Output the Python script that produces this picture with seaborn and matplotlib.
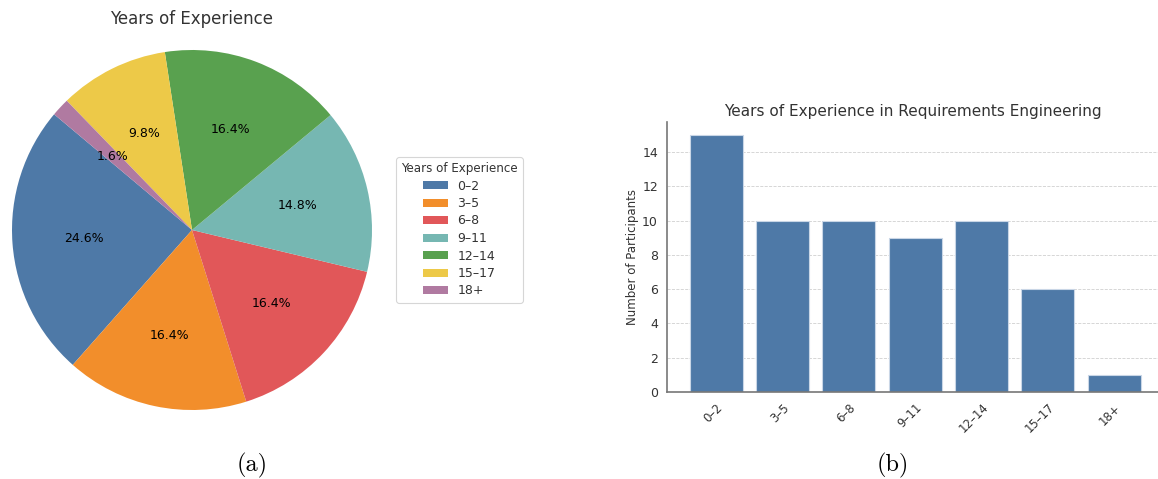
import matplotlib
matplotlib.use("Agg")
import matplotlib.pyplot as plt
import seaborn as sns
import pandas as pd

categories = ["0–2", "3–5", "6–8", "9–11", "12–14", "15–17", "18+"]
participants = [15, 10, 10, 9, 10, 6, 1]
colors = ["#4e79a7", "#f28e2b", "#e15759", "#76b7b2", "#59a14f", "#edc948", "#b07aa1"]

sns.set_style("white")
plt.rcParams["font.family"] = ["DejaVu Sans"]
plt.rcParams["text.color"] = "#333333"
plt.rcParams["axes.labelcolor"] = "#333333"
plt.rcParams["xtick.color"] = "#333333"
plt.rcParams["ytick.color"] = "#333333"

W, H = 1158, 479
fig = plt.figure(figsize=(W / 100, H / 100), dpi=100)

def pos(x0, y0, x1, y1):
    return [x0 / W, 1 - y1 / H, (x1 - x0) / W, (y1 - y0) / H]

# (a) pie
ax1 = fig.add_axes(pos(12, 50, 372, 410))
wedges, texts, autotexts = ax1.pie(
    participants, colors=colors, startangle=140, counterclock=True,
    autopct="%1.1f%%", pctdistance=0.6,
    wedgeprops={"linewidth": 0, "edgecolor": "none"},
    textprops={"fontsize": 9, "color": "black"},
)
ax1.set_xlim(-1, 1)
ax1.set_ylim(-1, 1)
ax1.set_aspect("equal")
ax1.set_title("Years of Experience", fontsize=12, pad=19, color="#333333")
leg = fig.legend(wedges, categories, title="Years of Experience",
                 loc="upper left", bbox_to_anchor=(396 / W, 1 - 157 / H),
                 fontsize=9, title_fontsize=8.6, frameon=True,
                 borderpad=0.4, labelspacing=0.36, handlelength=2.0,
                 handleheight=0.6, handletextpad=0.7, borderaxespad=0)
leg.get_frame().set_edgecolor("#cccccc")
leg.get_frame().set_linewidth(0.8)

# (b) bar
ax2 = fig.add_axes(pos(667, 122, 1158, 392))
df = pd.DataFrame({"Years": categories, "Participants": participants})
sns.barplot(data=df, x="Years", y="Participants", color="#4e79a7",
            saturation=1, width=0.8, ax=ax2, edgecolor="#c9d6e6", linewidth=0.8)
ax2.set_xlim(-0.74, 6.66)
ax2.set_ylim(0, 15.75)
ax2.set_yticks([0, 2, 4, 6, 8, 10, 12, 14])
ax2.yaxis.grid(True, linestyle="--", color="#d0d0d0", linewidth=0.6)
ax2.set_axisbelow(True)
ax2.set_xlabel("")
ax2.set_ylabel("Number of Participants", fontsize=8.5, labelpad=2)
ax2.set_title("Years of Experience in Requirements Engineering", fontsize=11, pad=4, color="#333333")
for s in ["top", "right"]:
    ax2.spines[s].set_visible(False)
for s in ["left", "bottom"]:
    ax2.spines[s].set_color("#777777")
    ax2.spines[s].set_linewidth(1.2)
ax2.tick_params(axis="both", labelsize=9, length=3, width=0.8, colors="#333333")
ax2.tick_params(axis="x", labelsize=8.5)
plt.setp(ax2.get_xticklabels(), rotation=45, ha="right", rotation_mode="anchor")

# captions
fig.text(252 / W, 1 - 465 / H, "(a)", family="cmr10", fontsize=17.5, ha="center", va="center", color="black")
fig.text(893 / W, 1 - 465 / H, "(b)", family="cmr10", fontsize=17.5, ha="center", va="center", color="black")

fig.savefig("out.png", dpi=100)
